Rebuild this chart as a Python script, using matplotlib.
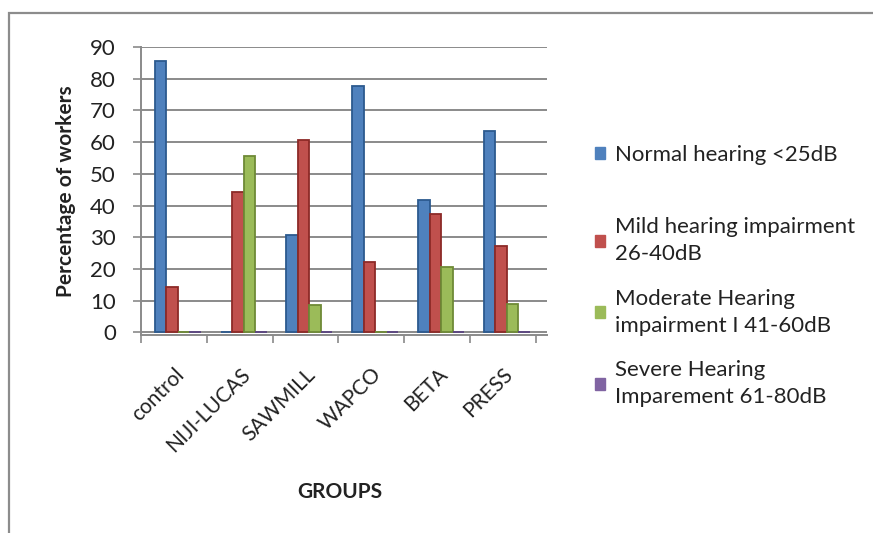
import numpy as np
import matplotlib
matplotlib.use("Agg")
import matplotlib.pyplot as plt
import matplotlib.transforms as mtransforms
from matplotlib.patches import Rectangle, Patch

plt.rcParams["font.family"] = ["Lato", "DejaVu Sans"]

groups = ["control", "NIJI-LUCAS", "SAWMILL", "WAPCO", "BETA", "PRESS"]
series = ["Normal hearing <25dB",
          "Mild hearing impairment\n26-40dB",
          "Moderate Hearing\nimpairment I 41-60dB",
          "Severe Hearing\nImparement 61-80dB"]
normal = [85.5, 0, 30.6, 77.7, 41.7, 63.5]
mild = [14.3, 44.4, 60.8, 22.1, 37.5, 27.3]
moderate = [0, 55.5, 8.7, 0, 20.7, 9.0]
severe = [0, 0, 0, 0, 0, 0]
colors = ["#4F81BD", "#C0504D", "#9BBB59", "#8064A2"]
edges = ["#2c5a8f", "#8c2a27", "#6e8a36", "#5a4380"]

W, H = 873, 533
fig = plt.figure(figsize=(W / 100, H / 100), dpi=100)
# outer chart frame (only top/left visible in the crop)
fig.patches.append(Rectangle((9 / W, -0.1), 1.2, (533 - 13) / H + 0.1,
                             transform=fig.transFigure, fill=False,
                             ec="#8c8c8c", lw=1.6))

ax = fig.add_axes([141 / W, (H - 335) / H, (547 - 141) / W, (335 - 47) / H])
x = np.arange(len(groups))
bw = 0.175
for i, (vals, c, e) in enumerate(zip([normal, mild, moderate, severe], colors, edges)):
    ax.bar(x + 0.06 + (i - 1.5) * bw, vals, bw, color=c, edgecolor=e,
           lw=1.3, zorder=3, clip_on=False, label=series[i])

ax.set_ylim(-0.8, 90)
ax.set_xlim(-0.5, 5.67)
ax.set_yticks(range(0, 91, 10))
ax.yaxis.grid(True, color="#8a8a8a", lw=1.4, zorder=0)
for s in ["top", "right"]:
    ax.spines[s].set_visible(False)
for s in ["left", "bottom"]:
    ax.spines[s].set_color("#8a8a8a")
    ax.spines[s].set_linewidth(1.4)
ax.tick_params(axis="y", length=6, color="#8a8a8a", width=1.2, labelsize=16,
               labelcolor="#222222", pad=12)
ax.set_xticks(x)
ax.set_xticklabels(groups, rotation=45, ha="right", rotation_mode="anchor",
                   fontsize=15, color="#222222")
shift = mtransforms.ScaledTranslation(-5 / 100, 0, fig.dpi_scale_trans)
for lab in ax.get_xticklabels():
    lab.set_transform(lab.get_transform() + shift)
ax.set_xticks(np.arange(-0.5, 6, 1), minor=True)
ax.tick_params(axis="x", which="major", length=0, pad=21)
ax.tick_params(axis="x", which="minor", length=6, color="#8a8a8a", width=1.2)

ax.set_ylabel("Percentage of workers", fontsize=15, fontweight="bold",
              color="#222222", labelpad=10)
fig.text(340 / W, 1 - 492 / H, "GROUPS", fontsize=15, fontweight="bold",
         color="#222222", ha="center", va="center")

# Excel spreads the legend entries over the box, so the first one sits apart
handles = [Patch(facecolor=c, edgecolor=c) for c in colors]
leg_kw = dict(loc="upper left", frameon=False, fontsize=16, labelspacing=1.1,
              handlelength=0.45, handleheight=0.45, handletextpad=0.45,
              labelcolor="#222222")
leg1 = fig.legend(handles[:1], series[:1], bbox_to_anchor=(575 / W, 1 - 125 / H), **leg_kw)
leg2 = fig.legend(handles[1:], series[1:], bbox_to_anchor=(575 / W, 1 - 197 / H), **leg_kw)
for t in leg2.get_texts():
    t.set_linespacing(1.45)

fig.savefig("out.png", dpi=100, facecolor="white")
